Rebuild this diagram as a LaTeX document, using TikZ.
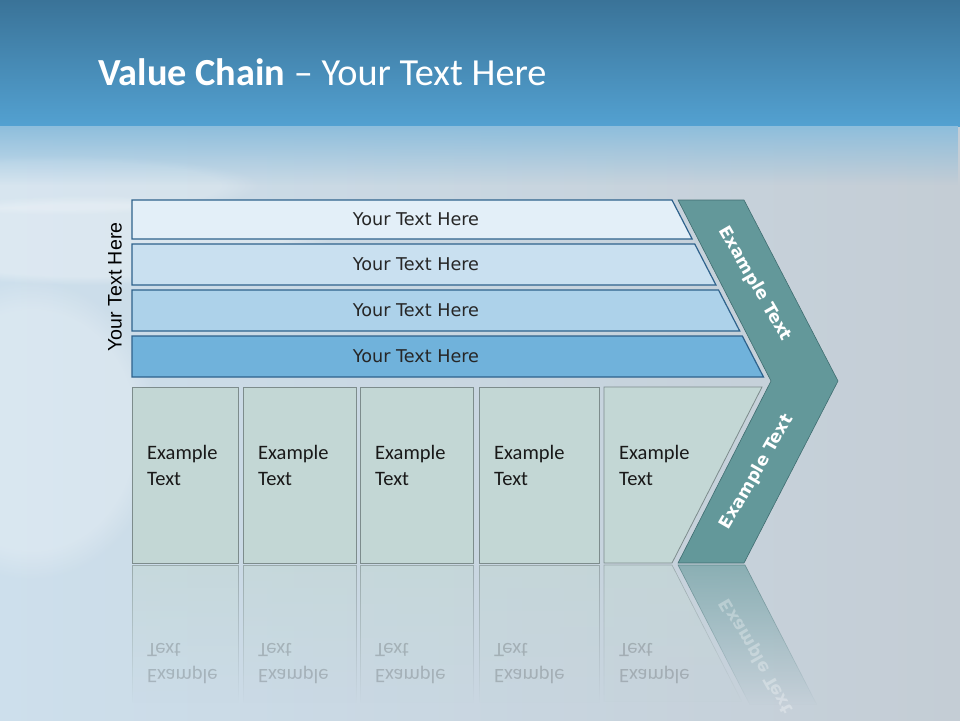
\documentclass[tikz,border=0pt]{standalone}
\usepackage{fontspec}
\setmainfont{Carlito}
\newfontfamily\barfont{DejaVu Sans}
\newfontfamily\sidefont{Liberation Sans}
\usetikzlibrary{positioning, fadings}

\definecolor{skytop}{HTML}{3A7398}
\definecolor{skymid}{HTML}{53A1D1}
\definecolor{skyhaze}{HTML}{8EBEDC}
\definecolor{floorL}{HTML}{CDDFEC}
\definecolor{floorR}{HTML}{C4CDD5}
\definecolor{barA}{HTML}{E3EFF8}
\definecolor{barB}{HTML}{C9E0F0}
\definecolor{barC}{HTML}{ADD2EA}
\definecolor{barD}{HTML}{70B2DB}
\definecolor{barline}{HTML}{2E628C}
\definecolor{colfill}{HTML}{C3D7D5}
\definecolor{colline}{HTML}{7D8C8C}
\definecolor{chevfill}{HTML}{63989A}
\definecolor{chevline}{HTML}{3F6D70}

\tikzfading[name=reflfade, top color=transparent!40, bottom color=transparent!100]

\tikzset{
  barbox/.style={draw=barline, line width=1.2pt, line join=miter},
  bartext/.style={font=\barfont\fontsize{17.6}{20}\selectfont, text=black!85},
  colbox/.style={draw=colline, fill=colfill, line width=.8pt},
  coltext/.style={anchor=base west, align=left, inner sep=0pt,
    font=\fontsize{20.5}{26}\selectfont, text=black!90},
  chevbox/.style={draw=chevline, fill=chevfill, line width=.6pt},
  chevtext/.style={font=\barfont\bfseries\fontsize{17.2}{20}\selectfont, text=white},
  reflbox/.style={fill=colfill, draw=colline, line width=.6pt, path fading=reflfade},
}

\begin{document}
\begin{tikzpicture}[x=1pt,y=-1pt]
\useasboundingbox (0,0) rectangle (960,720);

% background
\fill[left color=floorL, right color=floorR] (0,0) rectangle (960,720);
\fill[white, opacity=.25, path fading=circle with fuzzy edge 20 percent] (30,430) ellipse (130 and 150);
\fill[white, opacity=.3, path fading=circle with fuzzy edge 20 percent] (90,240) ellipse (240 and 45);
\fill[white, opacity=.2, path fading=circle with fuzzy edge 20 percent] (60,185) ellipse (200 and 30);
\fill[top color=skytop, bottom color=skymid] (0,0) rectangle (960,126);
\fill[skyhaze, path fading=south] (0,126) rectangle (960,185);

\node[anchor=base west, inner sep=0pt, text=white, font=\fontsize{38.3}{42}\selectfont]
  (title) at (98,85) {\textbf{Value Chain} – Your Text Here};

% bars
\foreach \i/\t/\b/\c in {1/200/239/barA, 2/244/285/barB, 3/290/331/barC, 4/336/377/barD}{
  \draw[barbox, fill=\c] (132,\t) -- ({672+0.517*(\t-200)},\t)
    -- ({672+0.517*(\b-200)},\b) -- (132,\b) -- cycle;
  \node[bartext] (bar\i) at (416,{(\t+\b)/2}) {Your Text Here};
}
\node[rotate=90, font=\sidefont\fontsize{19.6}{22}\selectfont] (side) at (115,287) {Your Text Here};

% columns
\foreach \i/\xa/\xb in {1/132/238, 2/243/356, 3/360/473, 4/479/599}{
  \draw[colbox] (\xa,387) rectangle (\xb,563);
  \node[coltext] (col\i) at (\xa+15,485) {Example\\Text};
}
\draw[colbox] (604,387) -- (762,387) -- (672,563) -- (604,563) -- cycle;
\node[coltext] (col5) at (619,485) {Example\\Text};

% chevron
\draw[chevbox] (678,200) -- (744,200) -- (838,381) -- (744,563) -- (678,563) -- (771,381) -- cycle;
\node[chevtext, rotate=-60] (chevup) at (755,284) {Example Text};
\node[chevtext, rotate=60] (chevdown) at (757,472) {Example Text};

% reflection
\foreach \xa/\xb in {132/238, 243/356, 360/473, 479/599}
  \draw[reflbox] (\xa,565) rectangle (\xb,702);
\draw[reflbox] (604,565) -- (672,565) -- (742,702) -- (604,702) -- cycle;
\draw[reflbox, fill=chevfill, draw=chevline] (678,565) -- (745,565) -- (817,705) -- (750,705) -- cycle;
\begin{scope}[shift={(0,1128)}, yscale=-1, transform shape]
  \foreach \i/\xa in {1/132, 2/243, 3/360, 4/479, 5/604}
    \node[coltext, opacity=.2] (refl\i) at (\xa+15,485) {Example\\Text};
  \node[chevtext, rotate=60, opacity=.3] (reflchev) at (757,472) {Example Text};
\end{scope}
\end{tikzpicture}
\end{document}
